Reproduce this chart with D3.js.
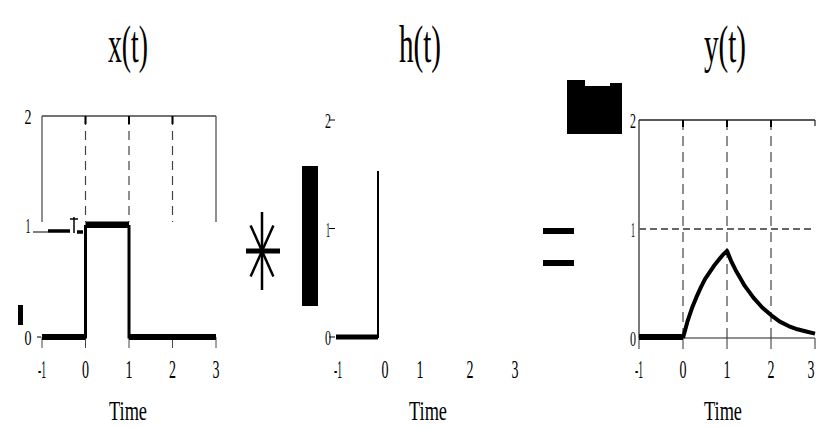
<!DOCTYPE html>
<html lang="en">
<head>
<meta charset="UTF-8">
<title>x(t) * h(t) = y(t)</title>
<script src="https://d3js.org/d3.v7.min.js"></script>
<style>
    body { margin: 0; background: #fff; }
    svg text { font-family: "Liberation Serif", "Times New Roman", serif; fill: #000; }
</style>
</head>
<body>
<div id="chart"></div>
<script>
// --- data ---
const ticks = [-1, 0, 1, 2, 3];
const yTicks = [0, 1, 2];
const titles = ["x(t)", "h(t)", "y(t)"];
const xlabel = "Time";

// x(t): unit pulse from 0 to 1
const xT = [-1, 0, 0, 1, 1, 3];
const xV = [0, 0, 1, 1, 0, 0];

// h(t): only the start of it is visible (jump at 0)
const hT = [-1, 0, 0];
const hV = [0, 0, 1.53];

// y(t): rise then decay
const yT = [0, 0.1, 0.2, 0.3, 0.4, 0.5, 0.6, 0.7, 0.8, 0.9, 1, 1.1, 1.2, 1.3, 1.4, 1.6, 1.8, 2, 2.2, 2.4, 2.6, 2.8, 3];
const yV = [0, 0.15, 0.27, 0.37, 0.46, 0.54, 0.6, 0.66, 0.71, 0.76, 0.8, 0.7, 0.62, 0.55, 0.48, 0.37, 0.28, 0.21, 0.15, 0.11, 0.08, 0.06, 0.04];

const W = 821, H = 428;
const svg = d3.select('#chart').append('svg')
    .attr('width', W).attr('height', H);

// narrow serif text, like the squeezed original
function label(x, y, str, size, w, anchor) {
    return svg.append('text')
        .attr('x', x).attr('y', y)
        .attr('font-size', size)
        .attr('text-anchor', anchor || 'middle')
        .attr('textLength', w)
        .attr('lengthAdjust', 'spacingAndGlyphs')
        .text(str);
}

const line = (xs, ys) => d3.line().x(d => xs(d[0])).y(d => ys(d[1]));

// ----- panel 1: x(t) -----
const x1 = d3.scaleLinear().domain([-1, 3]).range([42, 216]);
const y1 = d3.scaleLinear().domain([0, 2]).range([337, 116]);

const g1 = svg.append('g');
g1.append('line').attr('x1', x1(-1)).attr('x2', x1(3)).attr('y1', y1(2)).attr('y2', y1(2))
    .attr('stroke', '#444').attr('stroke-width', 1.5);
ticks.forEach(t => {
    const edge = (t === -1 || t === 3);
    g1.append('line').attr('x1', x1(t)).attr('x2', x1(t)).attr('y1', y1(2)).attr('y2', 222)
        .attr('stroke', '#444').attr('stroke-width', 1.2)
        .attr('stroke-dasharray', edge ? null : '9,6');
    if (!edge) g1.append('line').attr('x1', x1(t)).attr('x2', x1(t)).attr('y1', y1(2)).attr('y2', y1(2) + 8)
        .attr('stroke', '#000').attr('stroke-width', 2);
    // bottom ticks
    g1.append('line').attr('x1', x1(t)).attr('x2', x1(t)).attr('y1', y1(0)).attr('y2', y1(0) + 11)
        .attr('stroke', '#444').attr('stroke-width', 1);
    label(x1(t), 378, String(t), 25, t === -1 ? 8 : 7);
});
const xPts = xT.map((t, i) => [t, xV[i]]);
g1.append('path').datum(xPts).attr('d', line(x1, y1))
    .attr('fill', 'none').attr('stroke', '#000').attr('stroke-width', 3);
// heavy horizontal runs
[[-1, 0, 0], [0, 1, 1], [1, 3, 0]].forEach(s => {
    g1.append('line').attr('x1', x1(s[0])).attr('x2', x1(s[1]))
        .attr('y1', y1(s[2]) + (s[2] ? -2 : 0)).attr('y2', y1(s[2]) + (s[2] ? -2 : 0))
        .attr('stroke', '#000').attr('stroke-width', 6);
});
// left fragments around y=1
g1.append('line').attr('x1', 33).attr('x2', 48).attr('y1', 232).attr('y2', 232).attr('stroke', '#000').attr('stroke-width', 1);
g1.append('line').attr('x1', 48).attr('x2', 70).attr('y1', 231).attr('y2', 231).attr('stroke', '#000').attr('stroke-width', 3.5);
g1.append('line').attr('x1', 77).attr('x2', 83).attr('y1', 232).attr('y2', 232).attr('stroke', '#000').attr('stroke-width', 3.5);
g1.append('line').attr('x1', 74).attr('x2', 74).attr('y1', 217).attr('y2', 233).attr('stroke', '#000').attr('stroke-width', 1.5);
g1.append('line').attr('x1', 70).attr('x2', 78).attr('y1', 219).attr('y2', 219).attr('stroke', '#000').attr('stroke-width', 1.5);
g1.append('rect').attr('x', 18).attr('y', 305).attr('width', 5).attr('height', 20).attr('fill', '#000');
g1.append('line').attr('x1', 37).attr('x2', 41).attr('y1', y1(0)).attr('y2', y1(0)).attr('stroke', '#000').attr('stroke-width', 1);
label(28, y1(2) + 8, "2", 22, 7);
label(28, 233, "1", 22, 5);
label(28, y1(0) + 8, "0", 22, 7);
label(128, 62, titles[0], 52, 40);
label(128, 420, xlabel, 28, 38);

// ----- panel 2: h(t) -----
const x2 = d3.scaleLinear().domain(ticks).range([336, 378, 420, 470, 515]);
const y2 = d3.scaleLinear().domain([0, 2]).range([337, 120]);
const g2 = svg.append('g');
const hPts = hT.map((t, i) => [t, hV[i]]);
g2.append('path').datum(hPts).attr('d', line(x2, y2))
    .attr('fill', 'none').attr('stroke', '#000').attr('stroke-width', 2);
g2.append('line').attr('x1', x2(-1)).attr('x2', x2(0)).attr('y1', y2(0)).attr('y2', y2(0))
    .attr('stroke', '#000').attr('stroke-width', 5);
ticks.forEach(t => {
    label(x2(t) + (t === -1 ? 2 : t === 0 ? 7 : 0), 378, String(t), 25, t === -1 ? 8 : 7);
});
yTicks.forEach(v => {
    label(328, y2(v) + 8, String(v), 22, v === 1 ? 4 : 6);
    g2.append('line').attr('x1', 329).attr('x2', 335).attr('y1', y2(v)).attr('y2', y2(v))
        .attr('stroke', '#000').attr('stroke-width', 1);
});
// convolution star
const starC = [262, 251];
g2.append('line').attr('x1', starC[0]).attr('x2', starC[0]).attr('y1', 212).attr('y2', 290)
    .attr('stroke', '#000').attr('stroke-width', 2.5);
[-24, 24].forEach(a => {
    const r = a * Math.PI / 180, L = 28;
    g2.append('line')
        .attr('x1', starC[0] - Math.sin(r) * L).attr('y1', starC[1] - Math.cos(r) * L)
        .attr('x2', starC[0] + Math.sin(r) * L).attr('y2', starC[1] + Math.cos(r) * L)
        .attr('stroke', '#000').attr('stroke-width', 2.5);
});
g2.append('line').attr('x1', 246).attr('x2', 280).attr('y1', starC[1]).attr('y2', starC[1])
    .attr('stroke', '#000').attr('stroke-width', 5);
g2.append('rect').attr('x', 302).attr('y', 166).attr('width', 16).attr('height', 140).attr('fill', '#000');
label(420, 62, titles[1], 52, 42);
label(428, 420, xlabel, 28, 38);

// ----- equals -----
svg.append('rect').attr('x', 543).attr('y', 228).attr('width', 31).attr('height', 6).attr('fill', '#000');
svg.append('rect').attr('x', 543).attr('y', 260).attr('width', 31).attr('height', 6).attr('fill', '#000');

// ----- panel 3: y(t) -----
const x3 = d3.scaleLinear().domain([-1, 3]).range([639, 815]);
const y3 = d3.scaleLinear().domain([0, 2]).range([338, 120]);
const g3 = svg.append('g');
g3.append('line').attr('x1', x3(-1)).attr('x2', x3(3)).attr('y1', y3(2)).attr('y2', y3(2))
    .attr('stroke', '#222').attr('stroke-width', 1.5);
g3.append('line').attr('x1', x3(-1)).attr('x2', x3(3)).attr('y1', y3(0)).attr('y2', y3(0))
    .attr('stroke', '#222').attr('stroke-width', 1.2);
g3.append('line').attr('x1', x3(-1)).attr('x2', x3(-1)).attr('y1', y3(2)).attr('y2', y3(0))
    .attr('stroke', '#222').attr('stroke-width', 1.2);
g3.append('line').attr('x1', x3(3)).attr('x2', x3(3)).attr('y1', y3(2)).attr('y2', y3(2) + 6)
    .attr('stroke', '#222').attr('stroke-width', 1.2);
[0, 1, 2].forEach(t => {
    g3.append('line').attr('x1', x3(t)).attr('x2', x3(t)).attr('y1', y3(2)).attr('y2', y3(0))
        .attr('stroke', '#444').attr('stroke-width', 1.2).attr('stroke-dasharray', '10,6');
    g3.append('line').attr('x1', x3(t)).attr('x2', x3(t)).attr('y1', y3(2)).attr('y2', y3(2) + 7)
        .attr('stroke', '#000').attr('stroke-width', 2);
});
g3.append('line').attr('x1', x3(-1)).attr('x2', x3(3)).attr('y1', y3(1)).attr('y2', y3(1))
    .attr('stroke', '#666').attr('stroke-width', 2).attr('stroke-dasharray', '7,4');
ticks.forEach(t => {
    g3.append('line').attr('x1', x3(t)).attr('x2', x3(t)).attr('y1', y3(0)).attr('y2', y3(0) + 11)
        .attr('stroke', '#333').attr('stroke-width', 1);
    label(x3(t) - (t === 3 ? 4 : 0), 378, String(t), 25, t === -1 ? 8 : 7);
});
yTicks.forEach(v => label(633, y3(v) + 8, String(v), 22, v === 1 ? 4 : 6));
g3.append('line').attr('x1', x3(-1)).attr('x2', x3(0)).attr('y1', y3(0) - 1).attr('y2', y3(0) - 1)
    .attr('stroke', '#000').attr('stroke-width', 6);
const yPts = yT.map((t, i) => [t, yV[i]]);
g3.append('path').datum(yPts).attr('d', line(x3, y3))
    .attr('fill', 'none').attr('stroke', '#000').attr('stroke-width', 4).attr('stroke-linejoin', 'round');
// black blotch above the y axis
g3.append('path')
    .attr('d', 'M567,80 L585,80 L585,86 L610,86 L610,83 L622,83 L622,134 L567,134 Z')
    .attr('fill', '#000');
label(725, 62, titles[2], 52, 42);
label(723, 420, xlabel, 28, 38);
</script>
</body>
</html>
